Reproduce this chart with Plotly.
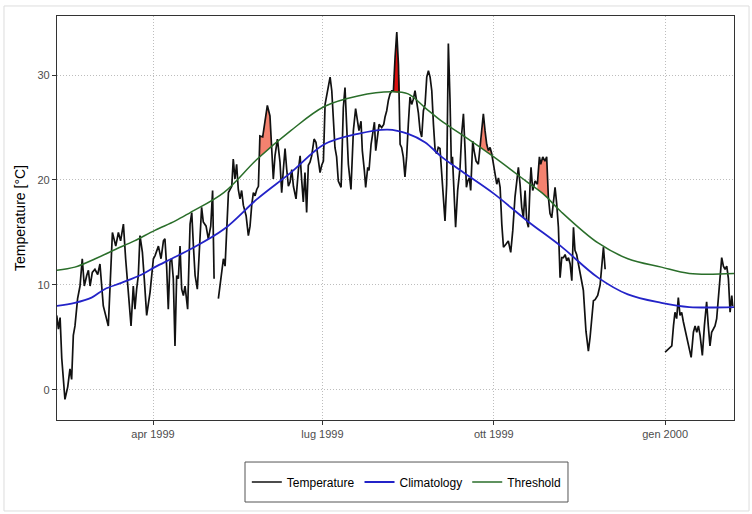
import numpy as np
import pandas as pd
import plotly.graph_objects as go

# ---- data (days counted from 1999-01-01) ----
temp_day = [38.3, 39.2, 40.1, 41.0, 42.7, 44.2, 45.4, 46.3, 47.2, 48.1, 49.5, 50.8, 52.0, 53.1, 54.4, 55.3,
            56.2, 57.4, 58.8, 60.3, 61.5, 63.3, 66.0, 66.9, 68.2, 70.0, 71.4, 72.6, 74.1, 75.3, 76.8, 78.2,
            79.4, 80.3, 81.2, 82.1, 83.0, 84.3, 85.3, 86.6, 88.4, 90.2, 91.1, 92.9, 94.3, 95.6, 96.4, 97.3,
            98.2, 99.1, 100.0, 100.9, 101.8, 102.7, 103.6, 104.5, 105.4, 106.3, 107.2, 108.6, 109.9, 110.8,
            111.7, 112.6, 113.8, 114.9, 116.1, 117.0, 118.5, 119.7, 121.0, 122.0, 122.8, 124.0,
            125.1, 126.9, 127.8, 128.7, 129.6, 130.5, 131.4, 132.3, 133.1, 134.0, 134.9, 135.8, 136.7, 137.6,
            138.5, 140.0, 141.2, 142.1, 143.0, 143.9, 144.8, 145.7, 146.6, 147.4, 148.9, 150.1, 151.4, 152.8,
            153.7, 154.6, 155.5, 156.8, 158.2, 159.1, 160.0, 160.9, 161.8, 162.7, 163.6, 164.5, 165.4, 166.8,
            168.1, 169.0, 169.8, 170.7, 171.6, 172.5, 173.4, 174.3, 175.2, 176.5, 177.5, 178.8, 179.7, 180.6,
            181.5, 182.4, 183.8, 185.1, 186.0, 186.8, 187.7, 188.6, 189.5, 191.0, 192.2, 193.1, 194.0, 194.9,
            196.3, 197.6, 198.8, 199.9, 200.6, 201.7, 202.4, 203.5, 204.2, 205.3, 206.0, 207.1, 207.8, 208.9,
            209.6, 210.7, 211.4, 212.8, 213.9, 214.6, 215.5, 216.4, 217.3, 218.2, 219.1, 220.0, 220.9, 221.8,
            222.7, 223.5, 224.4, 225.3, 226.2, 227.1, 228.0, 228.9, 229.8, 230.7, 231.6, 232.5, 233.4, 234.3,
            235.2, 236.1, 237.0, 237.9, 238.8, 239.7, 240.6, 241.5, 242.3, 243.2, 244.1, 245.0, 245.9, 246.8,
            247.7, 248.6, 249.5, 250.2, 250.8, 251.8, 252.5, 253.6, 254.9, 255.8, 256.7, 257.6, 258.3, 259.0,
            259.9, 260.6, 261.7, 262.4, 263.5, 264.7, 265.6, 266.5, 267.4, 268.3, 269.2, 270.1, 271.0, 271.9,
            272.8, 273.7, 274.6, 275.5, 276.4, 277.3, 278.2, 279.6, 280.8, 282.1, 283.2, 284.4, 285.3, 286.2,
            287.1, 288.0, 288.9, 289.8, 290.7, 291.6, 292.5, 293.0, 293.9, 295.2, 296.4, 297.5, 298.2, 299.3,
            300.5, 301.4, 302.3, 303.2, 304.1, 305.0, 305.9, 306.8, 307.7, 308.6, 309.5, 310.4, 311.3, 312.2,
            313.1, 314.0, 314.9, 315.8, 316.6, 317.5, 318.4, 319.3, 320.2, 321.1, 322.5, 323.8, 324.7, 325.6,
            326.5, 327.4, 328.8, 330.1, 331.0, 331.9, 332.8, 349.0,
            365.0, 366.8, 368.6, 369.5, 370.3, 371.2, 372.1, 373.0, 373.9, 374.8, 375.7, 377.5, 379.0, 380.2,
            381.1, 382.0, 382.9, 383.8, 385.0, 386.1, 387.3, 388.2, 389.1, 390.0, 390.9, 391.8, 392.7, 393.6,
            394.5, 395.4, 396.3, 397.2, 398.1, 399.0, 399.9, 400.8, 401.3]
temp_val = [7.1, 5.8, 6.9, 3.0, -0.9, 0.3, 2.0, 1.0, 5.2, 6.1, 8.7, 9.9, 12.5, 9.9, 10.9, 11.4,
            9.9, 11.2, 11.5, 11.0, 12.0, 8.0, 6.1, 9.3, 15.0, 13.7, 15.0, 14.2, 15.8, 12.5, 9.3, 6.1,
            9.9, 7.7, 9.6, 10.9, 14.7, 13.1, 10.6, 7.1, 9.3, 12.5, 12.8, 13.7, 12.5, 14.2, 14.4, 11.8,
            7.7, 12.2, 12.5, 10.6, 4.2, 10.9, 10.6, 13.7, 9.6, 9.0, 9.9, 7.7, 15.8, 16.9,
            13.7, 10.9, 9.6, 13.7, 17.4, 16.0, 15.6, 14.4, 15.6, 19.0, 10.6, None,
            8.7, 11.5, 12.5, 11.8, 15.6, 18.8, 19.1, 19.4, 22.0, 20.1, 21.5, 19.1, 18.2, 19.0,
            17.6, 16.6, 14.7, 15.6, 17.6, 18.8, 18.5, 19.1, 19.4, 24.2, 24.1, 25.8, 27.1, 26.1,
            23.3, 20.1, 22.3, 23.9, 21.7, 18.8, 21.0, 23.0, 21.0, 19.4, 19.8, 21.0, 19.4, 18.2,
            21.0, 22.3, 20.1, 17.9, 20.7, 16.9, 21.4, 21.7, 22.3, 23.9, 23.6, 22.0, 20.7, 21.4,
            21.8, 27.2, 28.5, 29.8, 28.5, 25.6, 23.1, 22.2, 19.9, 19.3, 26.9, 28.8, 25.3, 21.5,
            19.1, 24.7, 26.8, 25.3, 24.7, 25.6, 22.8, 20.9, 19.3, 21.2, 20.9, 23.4, 24.4, 25.5,
            22.8, 24.1, 25.3, 25.0, 25.3, 26.0, 26.6, 27.6, 28.2, 28.5, 28.5, 31.7, 34.1, 31.0,
            23.4, 23.1, 22.2, 20.3, 22.2, 25.3, 27.9, 27.2, 27.7, 28.5, 27.6, 26.4, 24.7, 24.1,
            26.6, 27.2, 29.8, 30.4, 29.8, 28.5, 25.3, 22.8, 22.5, 23.1, 23.0, 20.6, 17.7, 16.1,
            19.6, 33.0, 27.6, 21.5, 22.2, 17.1, 15.5, 19.0, 21.2, 24.5, 26.3, 22.8, 19.3, 19.9,
            20.2, 19.0, 23.7, 22.8, 21.8, 21.5, 23.1, 24.1, 26.3, 24.7, 23.4, 22.8, 23.1, 22.5,
            21.5, 20.2, 19.6, 20.2, 19.3, 15.8, 13.6, 13.9, 14.2, 13.1, 15.2, 18.4, 19.9, 21.2,
            19.6, 17.4, 16.4, 19.0, 16.1, 15.5, 19.6, 21.2, 19.0, 19.9, 19.6, 22.2, 21.5, 22.2,
            21.8, 22.2, 18.4, 16.8, 16.4, 17.7, 19.3, 17.7, 15.5, 10.7, 12.6, 12.6, 12.9, 12.3,
            12.6, 12.0, 10.4, 15.5, 13.3, 12.9, 12.0, 11.4, 10.4, 9.5, 5.6, 3.7, 5.0, 7.2,
            8.5, 8.6, 9.0, 10.0, 11.8, 13.6, 11.5, None,
            3.6, 3.9, 4.2, 6.1, 7.4, 6.8, 8.8, 7.1, 7.4, 6.5, 5.8, 4.5, 3.1, 5.5,
            6.1, 5.5, 6.1, 5.2, 3.3, 6.1, 8.4, 6.1, 4.2, 5.5, 5.8, 6.1, 6.8, 9.0,
            10.9, 12.6, 11.8, 11.5, 11.8, 10.6, 7.4, 9.0, 8.0]

clim_day = [38, 48, 57, 64, 73, 84, 91, 100, 110, 128, 146, 164, 182, 200, 216, 227, 236, 245, 256,
            273, 291, 309, 329, 345, 363, 378, 402]
clim_val = [8.0, 8.3, 8.8, 9.6, 10.2, 11.0, 11.7, 12.5, 13.4, 15.3, 18.2, 20.7, 23.4, 24.4, 24.8, 24.4,
            23.6, 22.2, 20.8, 18.7, 16.1, 13.7, 10.7, 9.1, 8.3, 7.9, 7.9]

thresh_day = [38, 48, 59, 70, 80, 91, 102, 110, 128, 146, 164, 182, 200, 218, 227, 236, 245, 256,
              273, 291, 300, 309, 329, 345, 363, 378, 402]
thresh_val = [11.4, 11.7, 12.5, 13.4, 14.2, 15.2, 16.1, 16.9, 18.8, 22.0, 24.7, 27.0, 28.0, 28.4, 28.2,
              26.9, 25.6, 24.3, 22.2, 19.8, 18.6, 17.0, 14.0, 12.5, 11.7, 11.1, 11.1]

# heatwave events (start day, end day, is_top_event)
event_start = [147, 219, 265, 296]
event_end = [155, 223, 272, 303]
event_top = [False, True, False, False]

tick_dates = ["1999-04-01", "1999-07-01", "1999-10-01", "2000-01-01"]
tick_text = ["apr 1999", "lug 1999", "ott 1999", "gen 2000"]
y_ticks = [0, 10, 20, 30]

base = pd.Timestamp("1999-01-01")


def to_date(days):
    return base + pd.to_timedelta(np.asarray(days, dtype=float), unit="D")


fig = go.Figure()

# flames
td = np.asarray(temp_day, dtype=float)
tv = np.asarray(temp_val, dtype=float)
for s, e, top in zip(event_start, event_end, event_top):
    m = (td >= s) & (td <= e) & ~np.isnan(tv)
    d = td[m]
    thr = np.interp(d, thresh_day, thresh_val)
    up = np.maximum(tv[m], thr)
    col = "#DD1010" if top else "#F4826F"
    fig.add_trace(go.Scatter(x=to_date(d), y=thr, mode="lines", line=dict(width=0),
                             showlegend=False, hoverinfo="skip"))
    fig.add_trace(go.Scatter(x=to_date(d), y=up, mode="lines", line=dict(width=0),
                             fill="tonexty", fillcolor=col, showlegend=False, hoverinfo="skip"))

fig.add_trace(go.Scatter(x=to_date(temp_day), y=temp_val, mode="lines", name="Temperature",
                         line=dict(color="#111111", width=1.7)))
fig.add_trace(go.Scatter(x=to_date(clim_day), y=clim_val, mode="lines", name="Climatology",
                         line=dict(color="#2323C8", width=1.8, shape="spline")))
fig.add_trace(go.Scatter(x=to_date(thresh_day), y=thresh_val, mode="lines", name="Threshold",
                         line=dict(color="#2A6E2A", width=1.5, shape="spline")))

axis_common = dict(showline=True, mirror=True, linecolor="#333333", linewidth=1.3,
                   ticks="outside", ticklen=4, tickcolor="#333333",
                   showgrid=True, gridcolor="#BDBDBD", gridwidth=1, griddash="1px,2px",
                   zeroline=False, tickfont=dict(size=11, color="#4D4D4D"))

fig.update_layout(
    width=752, height=514,
    margin=dict(l=57, r=18, t=16, b=94),
    paper_bgcolor="white", plot_bgcolor="white",
    font=dict(family="Liberation Sans, Arial, sans-serif", color="black"),
    xaxis=dict(type="date", range=["1999-02-08 10:30", "2000-02-07"],
               tickvals=tick_dates, ticktext=tick_text, **axis_common),
    yaxis=dict(range=[-2.86, 35.62], tickvals=y_ticks,
               title=dict(text="Temperature [°C]", font=dict(size=14, color="black"), standoff=8),
               **axis_common),
    legend=dict(orientation="h", x=0.516, xanchor="center", y=-0.1535, yanchor="middle",
                borderwidth=0, font=dict(size=12, color="black"), traceorder="normal",
                itemwidth=30, bgcolor="rgba(0,0,0,0)"),
    shapes=[
        dict(type="rect", xref="paper", yref="paper", x0=-0.0783, x1=1.0222,
             y0=-0.2252, y1=1.0248, line=dict(color="#DDDDDD", width=1)),
        dict(type="rect", xref="paper", yref="paper", x0=0.2777, x1=0.7548,
             y0=-0.203, y1=-0.104, line=dict(color="#555555", width=1)),
    ],
)

fig.write_html("out.html", config={"displayModeBar": False},
               post_script="document.body.style.margin='0px';")
